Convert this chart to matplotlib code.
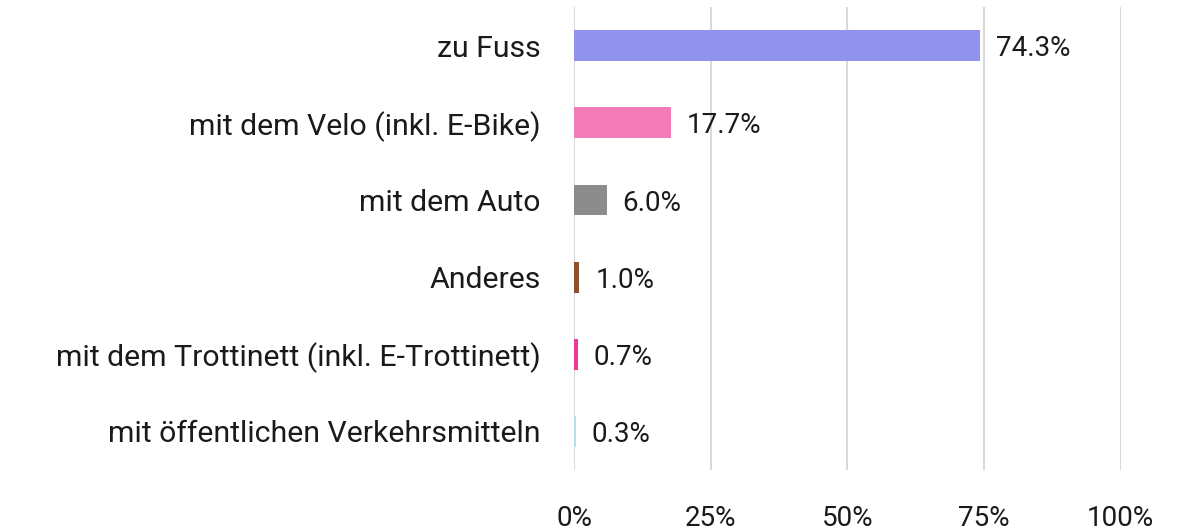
import matplotlib
matplotlib.use("Agg")
import matplotlib.pyplot as plt

categories = [
    "zu Fuss",
    "mit dem Velo (inkl. E-Bike)",
    "mit dem Auto",
    "Anderes",
    "mit dem Trottinett (inkl. E-Trottinett)",
    "mit öffentlichen Verkehrsmitteln",
]
values = [74.3, 17.7, 6.0, 1.0, 0.7, 0.3]
colors = ["#9191ee", "#f27bb8", "#8c8c8c", "#8e4f2c", "#f2359a", "#b5e0ee"]
ticks = [0, 25, 50, 75, 100]

plt.rcParams["font.family"] = ["Roboto", "DejaVu Sans"]

fig = plt.figure(figsize=(11.86, 5.32), dpi=100)
ax = fig.add_axes([0.484, 0.1165, 0.461, 0.870])

y = list(range(len(categories)))
ax.barh(y, values, height=0.4, color=colors, zorder=3)
for yi, v in zip(y, values):
    ax.text(v + 2.9, yi + 0.04, f"{v:.1f}%", va="center", ha="left",
            fontsize=20, color="#1a1a1a")

ax.set_xlim(0, 100)
ax.set_ylim(len(categories) - 0.5, -0.5)
ax.set_yticks(y)
ax.set_yticklabels(categories, fontsize=21.8, color="#1a1a1a")
ax.set_xticks(ticks)
ax.set_xticklabels([f"{t}%" for t in ticks], fontsize=20, color="#1a1a1a")
ax.tick_params(axis="both", length=0)
ax.tick_params(axis="x", pad=25)
ax.tick_params(axis="y", pad=24)
ax.grid(axis="x", color="#d9d9d9", lw=1.5, zorder=0)
for s in ax.spines.values():
    s.set_visible(False)

fig.savefig("out.png", dpi=100)
